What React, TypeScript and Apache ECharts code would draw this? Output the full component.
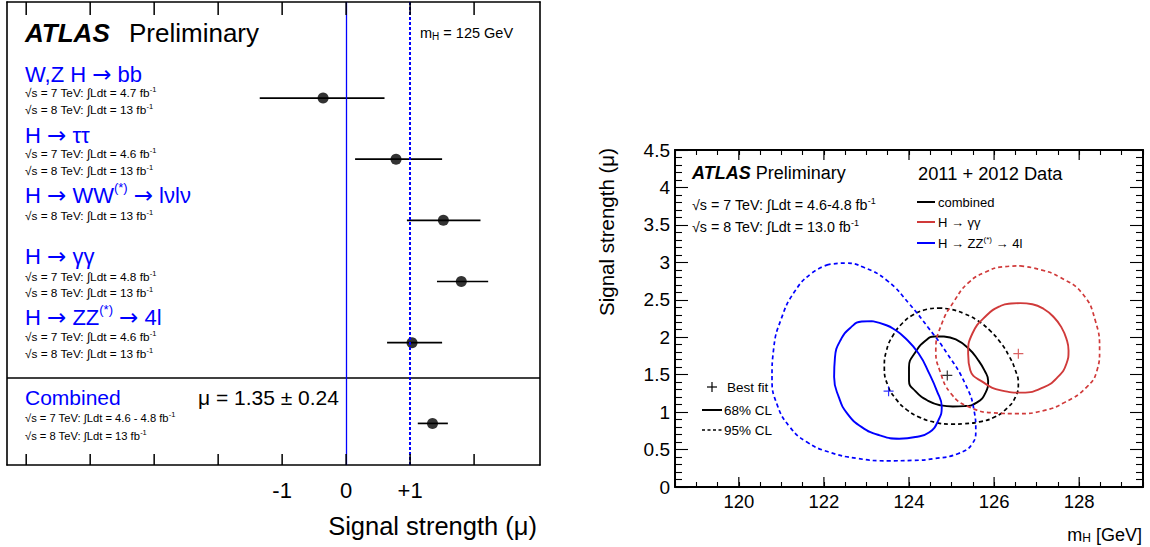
import React, { useEffect, useRef } from 'react';
import * as echarts from 'echarts';

const FONT = '"Liberation Sans", Arial, Helvetica, sans-serif';
const BLUE = '#0000ff';
const RED = '#d03a3a';
const BLACK = '#000000';

// ---------- Left panel data (signal strength per channel) ----------
const channelTitles = [
  'W,Z H {ar|→} bb',
  'H {ar|→} ττ',
  'H {ar|→} WW{sup|(*)} {ar|→} lνlν',
  'H {ar|→} γγ',
  'H {ar|→} ZZ{sup|(*)} {ar|→} 4l',
  'Combined',
];
const channelLumi = [
  ['√s = 7 TeV: ∫Ldt = 4.7 fb{sup|-1}', '√s = 8 TeV: ∫Ldt = 13 fb{sup|-1}'],
  ['√s = 7 TeV: ∫Ldt = 4.6 fb{sup|-1}', '√s = 8 TeV: ∫Ldt = 13 fb{sup|-1}'],
  ['√s = 8 TeV: ∫Ldt = 13 fb{sup|-1}'],
  ['√s = 7 TeV: ∫Ldt = 4.8 fb{sup|-1}', '√s = 8 TeV: ∫Ldt = 13 fb{sup|-1}'],
  ['√s = 7 TeV: ∫Ldt = 4.6 fb{sup|-1}', '√s = 8 TeV: ∫Ldt = 13 fb{sup|-1}'],
  ['√s = 7 TeV: ∫Ldt = 4.6 - 4.8 fb{sup|-1}', '√s = 8 TeV: ∫Ldt = 13 fb{sup|-1}'],
];
const muBest = [-0.36, 0.78, 1.52, 1.8, 1.03, 1.35];
const muLow = [-1.35, 0.14, 0.95, 1.42, 0.64, 1.12];
const muHigh = [0.6, 1.5, 2.1, 2.22, 1.5, 1.59];
const rowPos = [1, 2, 3, 4, 5, 6.32];
const muTickValues = [-5, -4, -3, -2, -1, 0, 1, 2];
const muLabelValues = [-1, 0, 1];
const combinedResult = 'μ = 1.35 ± 0.24';
const massLabel = 'm{sub|H} = 125 GeV';
const muAxisMin = -5.3;
const muAxisMax = 3.03;
const rowAxisMin = -0.57;
const rowAxisMax = 7.0;

// ---------- Right panel data (mu vs mH contours) ----------
const mhMajorTicks = [120, 122, 124, 126, 128];
const mhAxisMin = 118.5;
const mhAxisMax = 129.5;
const strengthMin = 0;
const strengthMax = 4.5;
const combined68 = [
  [124.82, 2.01], [125.1, 1.97], [125.4, 1.85], [125.62, 1.7], [125.78, 1.55], [125.86, 1.42],
  [125.8, 1.26], [125.6, 1.13], [125.3, 1.08], [125.03, 1.075], [124.75, 1.09], [124.45, 1.15],
  [124.15, 1.28], [124.0, 1.42], [124.0, 1.6], [124.15, 1.8], [124.4, 1.96], [124.6, 2.01],
];
const combined95 = [
  [124.69, 2.39], [125.0, 2.37], [125.32, 2.31], [125.62, 2.22], [125.9, 2.09], [126.15, 1.93],
  [126.35, 1.75], [126.5, 1.56], [126.57, 1.38], [126.5, 1.2], [126.3, 1.05], [126.0, 0.93],
  [125.65, 0.87], [125.3, 0.845], [125.0, 0.84], [124.6, 0.865], [124.25, 0.93], [123.95, 1.03],
  [123.7, 1.17], [123.5, 1.36], [123.42, 1.6], [123.47, 1.82], [123.62, 2.02], [123.85, 2.19],
  [124.1, 2.3], [124.4, 2.37],
];
const gg68 = [
  [126.62, 2.455], [126.9, 2.44], [127.16, 2.38], [127.4, 2.27], [127.58, 2.135], [127.7, 1.98],
  [127.75, 1.82], [127.7, 1.645], [127.5, 1.47], [127.16, 1.33], [126.66, 1.26], [126.16, 1.29],
  [125.74, 1.4], [125.44, 1.56], [125.39, 1.78], [125.49, 2.05], [125.82, 2.29], [126.16, 2.42],
  [126.4, 2.45],
];
const gg95 = [
  [126.62, 2.953], [127.1, 2.9], [127.55, 2.8], [128.08, 2.58], [128.38, 2.22], [128.48, 1.82],
  [128.42, 1.56], [128.17, 1.33], [127.66, 1.13], [127.16, 1.02], [126.57, 0.98], [125.99, 0.99],
  [125.41, 1.07], [124.99, 1.245], [124.72, 1.56], [124.63, 1.82], [124.77, 2.18], [125.07, 2.49],
  [125.4, 2.73], [125.8, 2.87], [126.2, 2.94],
];
const zz68 = [
  [123.14, 2.215], [123.47, 2.16], [123.64, 2.11], [123.89, 2.0], [124.23, 1.78], [124.48, 1.51],
  [124.65, 1.29], [124.77, 1.07], [124.69, 0.89], [124.48, 0.73], [124.15, 0.667], [123.77, 0.645],
  [123.31, 0.69], [122.89, 0.8], [122.55, 0.98], [122.35, 1.2], [122.24, 1.47], [122.26, 1.73],
  [122.39, 1.96], [122.64, 2.135], [122.89, 2.21],
];
const zz95 = [
  [122.1, 2.97], [121.7, 2.85], [121.3, 2.6], [121.0, 2.25], [120.82, 1.85], [120.78, 1.45],
  [120.9, 1.1], [121.2, 0.8], [121.6, 0.6], [122.1, 0.47], [122.8, 0.38], [123.5, 0.35],
  [124.1, 0.355], [124.6, 0.38], [125.15, 0.445], [125.49, 0.58], [125.57, 0.76], [125.53, 1.02],
  [125.32, 1.38], [124.9, 1.78], [124.45, 2.13], [124.0, 2.45], [123.5, 2.75], [122.95, 2.93],
  [122.5, 2.99],
];
const bestFitNames = ['combined', 'H → γγ', 'H → ZZ'];
const bestFitMass = [124.9, 126.57, 123.52];
const bestFitMu = [1.49, 1.78, 1.28];
const bestFitColors = [BLACK, RED, BLUE];

const PLUS = 'path://M4.4,0H5.6V4.4H10V5.6H5.6V10H4.4V5.6H0V4.4H4.4Z';

function txt(x: number, y: number, text: string, fontSize: number, extra: any = {}, elExtra: any = {}) {
  return {
    type: 'text',
    x,
    y,
    silent: true,
    ...elExtra,
    style: {
      text,
      fontSize,
      fontFamily: FONT,
      fill: BLACK,
      textAlign: 'left',
      align: 'left',
      textVerticalAlign: 'middle',
      verticalAlign: 'middle',
      ...extra,
    },
  };
}

function supRich(size: number, raise: number, color: string, arrowSize = 0) {
  const r: any = {
    sup: { fontSize: size, lineHeight: size, padding: [0, 0, raise * 2, 0], fill: color, fontFamily: FONT },
    sub: { fontSize: size, lineHeight: size, padding: [raise * 2, 0, 0, 0], fill: color, fontFamily: FONT },
  };
  if (arrowSize) {
    r.ar = { fontSize: arrowSize, lineHeight: arrowSize, fill: color, fontFamily: '"DejaVu Sans", sans-serif' };
  }
  return r;
}

function line(x1: number, y1: number, x2: number, y2: number, stroke: string, lineWidth: number, lineDash?: number[]) {
  return {
    type: 'line',
    silent: true,
    shape: { x1, y1, x2, y2 },
    style: { stroke, lineWidth, lineDash: lineDash || null },
  };
}

function buildGraphics() {
  const g: any[] = [];
  g.push(line(7, 378, 540, 378, BLACK, 1.3));
  g.push(txt(25, 33, 'ATLAS', 26, { fontWeight: 'bold', fontStyle: 'italic' }));
  g.push(txt(129, 33, 'Preliminary', 26));
  g.push(txt(420, 33, massLabel, 14.5, { rich: supRich(10, 3, BLACK) }));
  const titleY = [74, 135, 195, 256, 317, 397];
  const lumiY = [[93, 110], [154, 171], [216], [277, 293], [337, 354], [418, 436]];
  channelTitles.forEach((t, i) => {
    const isComb = i === channelTitles.length - 1;
    g.push(txt(25, titleY[i], t, isComb ? 21 : 22, { fill: BLUE, rich: supRich(13, 8, BLUE, 23) }));
    channelLumi[i].forEach((l, j) => {
      g.push(txt(25, lumiY[i][j], l, isComb ? 11.2 : 11.8, { rich: supRich(7.5, 4, BLACK) }));
    });
  });
  g.push(txt(198, 397, combinedResult, 21));
  g.push(txt(537, 526, 'Signal strength (μ)', 25.5, { textAlign: 'right', align: 'right' }));

  // right panel texts
  g.push(txt(692, 173, '{b|ATLAS} Preliminary', 18, {
    rich: { b: { fontSize: 18, fontWeight: 'bold', fontStyle: 'italic', fontFamily: FONT, fill: BLACK } },
  }));
  g.push(txt(918, 173, '2011 + 2012 Data', 18.3));
  g.push(txt(692, 205, '√s = 7 TeV: ∫Ldt = 4.6-4.8 fb{sup|-1}', 14.3, { rich: supRich(9, 4, BLACK) }));
  g.push(txt(692, 227, '√s = 8 TeV: ∫Ldt = 13.0 fb{sup|-1}', 14.3, { rich: supRich(9, 4, BLACK) }));
  const legY = [202, 222, 243];
  const legCol = [BLACK, RED, BLUE];
  const legTxt = ['combined', 'H → γγ', 'H → ZZ{sup|(*)} → 4l'];
  legY.forEach((y, i) => {
    g.push(line(917, y, 935, y, legCol[i], 2));
    g.push(txt(938, y, legTxt[i], 13, { rich: supRich(8, 4, BLACK) }));
  });
  // best fit / CL legend
  g.push(line(707, 387, 717, 387, BLACK, 1.2));
  g.push(line(712, 382, 712, 392, BLACK, 1.2));
  g.push(txt(727, 387, 'Best fit', 13.5));
  g.push(line(702, 410, 722, 410, BLACK, 2));
  g.push(txt(724, 410, '68% CL', 13.5));
  g.push(line(702, 430, 722, 430, BLACK, 1.6, [3, 2.5]));
  g.push(txt(724, 430, '95% CL', 13.5));
  // axis titles
  g.push(txt(606, 148, 'Signal strength (μ)', 20.5, { textAlign: 'right', align: 'right' }, { rotation: Math.PI / 2 }));
  g.push(txt(1142, 535, 'm{sub|H} [GeV]', 18, { textAlign: 'right', align: 'right', rich: supRich(12, 3, BLACK) }));
  return g;
}

function contour(name: string, data: number[][], color: string, dashed: boolean) {
  return {
    name,
    type: 'line',
    xAxisIndex: 1,
    yAxisIndex: 1,
    data: [...data, data[0]],
    smooth: 0.5,
    symbol: 'none',
    silent: true,
    lineStyle: { color, width: dashed ? 1.7 : 1.9, type: dashed ? [4, 3] : 'solid' },
    z: 3,
  };
}

// major ticks drawn through the axis scales, at the bottom and top edges of a grid
function tickSeries(values: number[], xAxisIndex: number, yAxisIndex: number, yBottomVal: number, yTopVal: number, bottomLen: number, topLen: number, color = BLACK, width = 1.2) {
  return {
    type: 'custom',
    xAxisIndex,
    yAxisIndex,
    silent: true,
    clip: false,
    data: values.map((v) => [v, yBottomVal, yTopVal]),
    encode: { x: 0, y: [1, 2] },
    renderItem: (_params: any, api: any) => {
      const pb = api.coord([api.value(0), api.value(1)]);
      const pt = api.coord([api.value(0), api.value(2)]);
      const st = { stroke: color, lineWidth: width };
      return {
        type: 'group',
        children: [
          { type: 'line', shape: { x1: pb[0], y1: pb[1], x2: pb[0], y2: pb[1] - bottomLen }, style: st },
          { type: 'line', shape: { x1: pt[0], y1: pt[1], x2: pt[0], y2: pt[1] + topLen }, style: st },
        ],
      };
    },
    z: 6,
  };
}

export default function App() {
  const ref = useRef<HTMLDivElement>(null);
  useEffect(() => {
    if (!ref.current) return;
    const chart = echarts.init(ref.current, null, { renderer: 'svg' });
    const tickStyle = { color: BLACK, width: 1.1 };
    const frameLine = { show: true, onZero: false, lineStyle: { color: BLACK, width: 1.6 } };
    const rightX = {
      gridIndex: 1, type: 'value', min: mhAxisMin, max: mhAxisMax, splitLine: { show: false },
    };
    const rightY = {
      gridIndex: 1, type: 'value', min: strengthMin, max: strengthMax, interval: 0.5, splitLine: { show: false },
      axisLine: { show: true, onZero: false, lineStyle: { color: BLACK, width: 2 } },
      axisTick: { show: true, inside: true, length: 13, lineStyle: tickStyle },
      minorTick: { show: true, splitNumber: 5, length: 7, lineStyle: tickStyle },
    };
    const option: any = {
      animation: false,
      textStyle: { fontFamily: FONT },
      grid: [
        { left: 7, top: 2, width: 533, height: 463 },
        { left: 675, top: 150, width: 468, height: 337 },
      ],
      xAxis: [
        {
          gridIndex: 0, type: 'value', min: muAxisMin, max: muAxisMax, position: 'bottom',
          axisLine: frameLine, splitLine: { show: false },
          axisTick: { show: false },
          axisLabel: {
            show: true, customValues: muLabelValues, fontSize: 22, color: BLACK, fontFamily: FONT, margin: 14,
            formatter: (v: number) => (v > 0 ? '+' + v : String(v)),
          },
        },
        {
          ...rightX, position: 'bottom', interval: 0.5,
          axisLine: { show: true, onZero: false, lineStyle: { color: BLACK, width: 2 } },
          axisTick: { show: true, inside: true, length: 5, lineStyle: tickStyle },
          axisLabel: { show: false },
        },
        {
          ...rightX, position: 'bottom',
          axisLine: { show: false, onZero: false },
          axisTick: { show: false },
          axisLabel: { show: true, customValues: mhMajorTicks, fontSize: 18.5, color: BLACK, fontFamily: FONT, margin: 5 },
        },
        {
          ...rightX, position: 'top', interval: 0.5,
          axisLine: { show: true, onZero: false, lineStyle: { color: BLACK, width: 2 } },
          axisTick: { show: true, inside: true, length: 5, lineStyle: tickStyle },
          axisLabel: { show: false },
        },
        {
          gridIndex: 0, type: 'value', min: muAxisMin, max: muAxisMax, position: 'top',
          axisLine: frameLine, splitLine: { show: false }, axisTick: { show: false }, axisLabel: { show: false },
        },
      ],
      yAxis: [
        {
          gridIndex: 0, type: 'value', inverse: true, min: rowAxisMin, max: rowAxisMax, position: 'left',
          axisLine: frameLine, axisTick: { show: false }, axisLabel: { show: false }, splitLine: { show: false },
        },
        {
          ...rightY, position: 'left',
          axisLabel: { show: true, fontSize: 19, color: BLACK, fontFamily: FONT, margin: 5 },
        },
        { ...rightY, position: 'right', axisLabel: { show: false } },
        {
          gridIndex: 0, type: 'value', inverse: true, min: rowAxisMin, max: rowAxisMax, position: 'right',
          axisLine: frameLine, axisTick: { show: false }, axisLabel: { show: false }, splitLine: { show: false },
        },
      ],
      graphic: buildGraphics(),
      series: [
        tickSeries(muTickValues, 0, 0, rowAxisMax, rowAxisMin, 11, 13, BLACK, 1.5),
        tickSeries(mhMajorTicks, 1, 1, strengthMin, strengthMax, 10, 10, BLACK, 1.2),
        {
          name: 'error bars',
          type: 'custom',
          xAxisIndex: 0,
          yAxisIndex: 0,
          silent: true,
          data: muBest.map((m, i) => [m, muLow[i], muHigh[i], rowPos[i]]),
          encode: { x: [0, 1, 2], y: 3 },
          renderItem: (_p: any, api: any) => {
            const y = api.value(3);
            const a = api.coord([api.value(1), y]);
            const b = api.coord([api.value(2), y]);
            return {
              type: 'line',
              shape: { x1: a[0], y1: a[1], x2: b[0], y2: b[1] },
              style: { stroke: BLACK, lineWidth: 1.7 },
            };
          },
          z: 3,
        },
        {
          name: 'mu',
          type: 'scatter',
          xAxisIndex: 0,
          yAxisIndex: 0,
          silent: true,
          symbol: 'circle',
          symbolSize: 11,
          itemStyle: { color: BLACK },
          data: muBest.map((m, i) => [m, rowPos[i]]),
          z: 4,
          markLine: {
            silent: true,
            symbol: ['none', 'none'],
            label: { show: false },
            data: [
              { xAxis: 0, lineStyle: { color: BLUE, width: 1.3, type: 'solid' } },
              { xAxis: 1, lineStyle: { color: BLUE, width: 2, type: [3, 2] } },
            ],
          },
        },
        contour('combined 95%', combined95, BLACK, true),
        contour('combined 68%', combined68, BLACK, false),
        contour('H→γγ 95%', gg95, RED, true),
        contour('H→γγ 68%', gg68, RED, false),
        contour('H→ZZ 95%', zz95, BLUE, true),
        contour('H→ZZ 68%', zz68, BLUE, false),
        {
          name: 'best fit',
          type: 'scatter',
          xAxisIndex: 1,
          yAxisIndex: 1,
          silent: true,
          symbol: PLUS,
          symbolSize: 10,
          data: bestFitMass.map((m, i) => ({
            name: bestFitNames[i],
            value: [m, bestFitMu[i]],
            itemStyle: { color: bestFitColors[i] },
          })),
          z: 5,
        },
      ],
    };
    chart.setOption(option);
    return () => chart.dispose();
  }, []);
  return <div ref={ref} style={{ position: 'absolute', left: 0, top: 0, width: 1150, height: 547, background: '#fff' }} />;
}
